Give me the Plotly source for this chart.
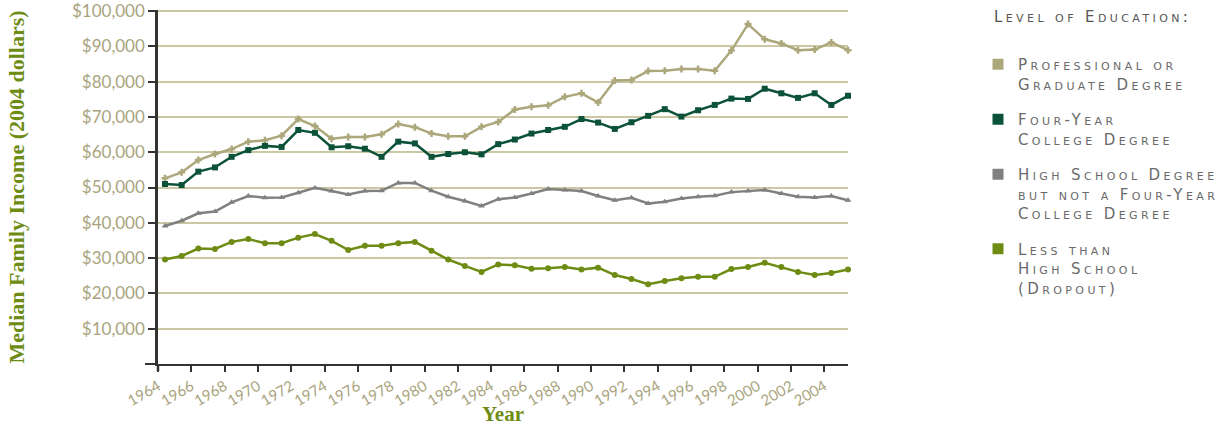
import plotly.graph_objects as go

years = list(range(1964, 2006))

professional = [52600, 54300, 57800, 59500, 60900, 63000, 63400, 64700, 69400, 67400,
                63800, 64300, 64300, 65100, 68000, 67100, 65300, 64500, 64500, 67200,
                68600, 72100, 72900, 73300, 75700, 76700, 74100, 80300, 80500, 83000,
                83100, 83600, 83600, 83100, 88800, 96300, 92000, 90800, 88900, 89100,
                91100, 88900]
four_year = [51000, 50700, 54500, 55700, 58700, 60600, 61800, 61500, 66300, 65500,
             61400, 61700, 61000, 58700, 63000, 62500, 58700, 59500, 60000, 59400,
             62300, 63600, 65300, 66300, 67200, 69400, 68400, 66600, 68500, 70300,
             72200, 70100, 71900, 73400, 75200, 75100, 78000, 76700, 75400, 76700,
             73400, 76000]
high_school = [39100, 40600, 42700, 43200, 45800, 47600, 47100, 47200, 48500, 49900,
               49000, 48000, 49000, 49100, 51300, 51300, 49100, 47400, 46200, 44800,
               46700, 47200, 48300, 49600, 49300, 49000, 47600, 46400, 47100, 45500,
               46000, 46900, 47400, 47700, 48700, 49000, 49300, 48300, 47400, 47200,
               47600, 46400]
dropout = [29600, 30600, 32700, 32600, 34600, 35400, 34200, 34200, 35800, 36800,
           34900, 32300, 33500, 33500, 34200, 34600, 32100, 29600, 27800, 26100,
           28200, 28000, 27000, 27100, 27500, 26800, 27300, 25200, 24100, 22600,
           23500, 24300, 24700, 24700, 26900, 27500, 28700, 27500, 26100, 25200,
           25800, 26800]

series_names = ["Professional or<br>Graduate Degree",
                "Four-Year<br>College Degree",
                "High School Degree<br>but not a Four-Year<br>College Degree",
                "Less than<br>High School<br>(Dropout)"]
series_values = [professional, four_year, high_school, dropout]
legend_title = "Level of Education:"
colors = ["#ADA77C", "#0B5238", "#808080", "#6E8C14"]
symbols = ["cross-thin", "square", "triangle-up", "circle"]

tick_years = list(range(1964, 2005, 2))
tick_labels = [str(y) for y in tick_years]
y_ticks = list(range(10000, 100001, 10000))
y_labels = ["${:,}".format(v) for v in y_ticks]

SPACED = '<span style="letter-spacing:3.4px">{}</span>'


def spaced(text):
    return "<br>".join(SPACED.format(part) for part in text.split("<br>"))


W, H = 1226, 426
L, R, T, B = 158, 378, 10, 62
PW, PH = W - L - R, H - T - B

fig = go.Figure()
for name, vals, col, sym in zip(series_names, series_values, colors, symbols):
    if sym == "cross-thin":
        mk = dict(symbol=sym, size=5, color=col, line=dict(color=col, width=2.5))
    else:
        mk = dict(symbol=sym, size=6, color=col)
    fig.add_trace(go.Scatter(
        x=years, y=vals, mode="lines+markers",
        line=dict(color=col, width=2.5), marker=mk,
        showlegend=False, cliponaxis=False, hoverinfo="skip"))
    fig.add_trace(go.Scatter(
        x=[None], y=[None], mode="markers", name=spaced(name),
        marker=dict(symbol="square", size=11, color=col),
        legendgroup=name, showlegend=True))

tick_font = dict(family="Lato, DejaVu Sans, sans-serif", size=17, color="#A9A47E")
title_font = dict(family="Liberation Serif, serif", size=21,
                  color="#6E8C14", weight="bold")

fig.update_layout(
    width=W, height=H,
    paper_bgcolor="white", plot_bgcolor="white",
    margin=dict(l=L, r=R, t=T, b=B),
    xaxis=dict(
        range=[1963.58, 2005.0], tickmode="array",
        tickvals=[y - 0.42 for y in tick_years], ticktext=tick_labels,
        tickangle=-30, tickfont=dict(tick_font, size=15),
        ticks="outside", ticklen=6, tickwidth=2, tickcolor="#333333",
        showline=True, linecolor="#333333", linewidth=2,
        showgrid=False, zeroline=False, automargin=False,
        title=dict(text="Year", font=title_font),
    ),
    yaxis=dict(
        range=[0, 100300], tickmode="array", tickvals=y_ticks, ticktext=y_labels,
        tickfont=tick_font,
        ticks="outside", ticklen=7, tickwidth=1.5, tickcolor="#333333",
        showline=True, linecolor="#333333", linewidth=2.5,
        showgrid=True, gridcolor="#CBC6A3", gridwidth=1.5, zeroline=False,
        automargin=False,
        title=dict(text="Median Family Income (2004 dollars)",
                   font=dict(title_font, size=22), standoff=42),
    ),
    legend=dict(
        xref="container", yref="container",
        x=978 / W, xanchor="left", y=1 - 48 / H, yanchor="top",
        valign="top", tracegroupgap=13, maxheight=370,
        font=dict(family="DejaVu Sans, sans-serif", size=15, color="#6A6A6A",
                  variant="small-caps"),
        bgcolor="rgba(0,0,0,0)",
    ),
    annotations=[dict(
        text=spaced(legend_title), xref="paper", yref="paper",
        x=(992 - L) / PW, y=(H - B - 17) / PH, xanchor="left", yanchor="middle",
        showarrow=False,
        font=dict(family="DejaVu Sans, sans-serif", size=15, color="#555555",
                  variant="small-caps"),
    )],
    shapes=[
        dict(type="line", xref="paper", yref="paper", x0=-13 / PW, x1=0, y0=0, y1=0,
             line=dict(color="#333333", width=2)),
        dict(type="line", xref="paper", yref="paper", x0=0, x1=0, y0=0, y1=-7 / PH,
             line=dict(color="#333333", width=2.5)),
    ],
)

fig.write_html("out.html", config={"displayModeBar": False},
               post_script="document.body.style.margin='0';"
                           "document.body.style.overflow='hidden';")
